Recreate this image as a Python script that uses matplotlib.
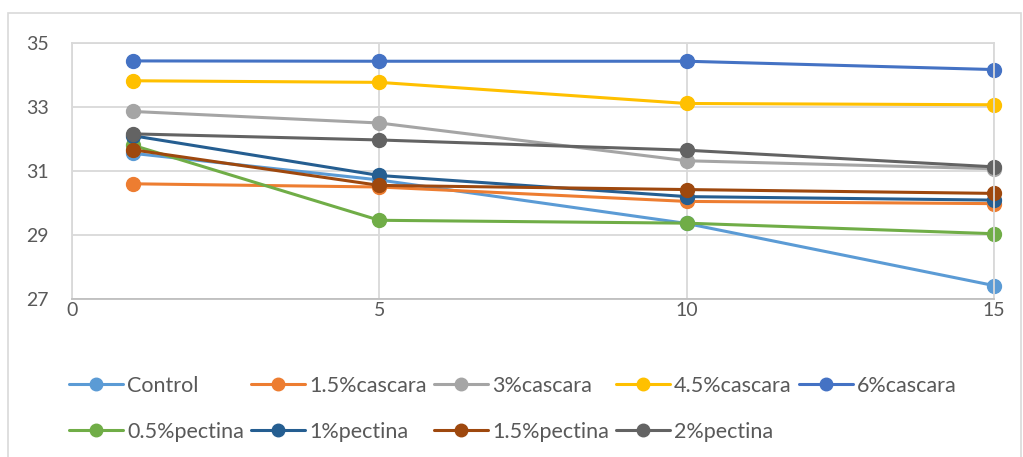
import matplotlib.pyplot as plt
from matplotlib.patches import Rectangle

plt.rcParams['font.family'] = ['Lato', 'DejaVu Sans']

# storage days
days = [1, 5, 10, 15]

control = [31.55, 30.72, 29.36, 27.42]
cascara_15 = [30.60, 30.50, 30.05, 29.98]
cascara_3 = [32.86, 32.50, 31.32, 31.07]
cascara_45 = [33.82, 33.77, 33.11, 33.07]
cascara_6 = [34.44, 34.43, 34.43, 34.17]
pectina_05 = [31.80, 29.46, 29.37, 29.04]
pectina_1 = [32.10, 30.86, 30.20, 30.09]
pectina_15 = [31.66, 30.55, 30.42, 30.30]
pectina_2 = [32.16, 31.97, 31.65, 31.13]

labels = ['Control', '1.5%cascara', '3%cascara', '4.5%cascara', '6%cascara',
          '0.5%pectina', '1%pectina', '1.5%pectina', '2%pectina']
series = [control, cascara_15, cascara_3, cascara_45, cascara_6,
          pectina_05, pectina_1, pectina_15, pectina_2]
colors = ['#5B9BD5', '#ED7D31', '#A5A5A5', '#FFC000', '#4472C4',
          '#70AD47', '#255E91', '#9E480E', '#636363']

fig = plt.figure(figsize=(10.23, 4.57), dpi=100)
ax = fig.add_axes([72 / 1023, 1 - 299 / 457, (994 - 72) / 1023, (299 - 43) / 457])

# outer chart border
fig.patches.append(Rectangle((8 / 1023, -0.1), (1021 - 8) / 1023, 1.1 - 13 / 457,
                             transform=fig.transFigure, fill=False,
                             edgecolor='#D9D9D9', linewidth=1.2))

handles = []
for vals, lab, col in zip(series, labels, colors):
    h, = ax.plot(days, vals, color=col, linewidth=2.2, marker='o',
                 markersize=10, label=lab, solid_capstyle='round', clip_on=False)
    handles.append(h)

ax.set_xlim(0, 15)
ax.set_ylim(27, 35)
ax.set_xticks([0, 5, 10, 15])
ax.set_yticks([27, 29, 31, 33, 35])
ax.grid(True, color='#D9D9D9', linewidth=1.3)
ax.set_axisbelow(True)
for side in ['top', 'right', 'left']:
    ax.spines[side].set_color('#D9D9D9')
    ax.spines[side].set_linewidth(1.3)
ax.spines['bottom'].set_color('#BFBFBF')
ax.spines['bottom'].set_linewidth(1.3)
ax.tick_params(length=0, labelsize=14, labelcolor='#595959')
ax.tick_params(axis='y', pad=17)
ax.tick_params(axis='x', pad=2)

# legend filled row by row over 5 columns
order = [0, 5, 1, 6, 2, 7, 3, 8, 4]
leg = fig.legend([handles[i] for i in order], [labels[i] for i in order],
                 ncol=5, loc='upper left', bbox_to_anchor=(69 / 1023, 1 - 376 / 457),
                 frameon=False, fontsize=15.5, handlelength=2.5, handletextpad=0.2,
                 columnspacing=0.33, labelspacing=1.2, borderpad=0, borderaxespad=0,
                 markerscale=0.9)
for t in leg.get_texts():
    t.set_color('#595959')

fig.savefig('out.png', dpi=100)
